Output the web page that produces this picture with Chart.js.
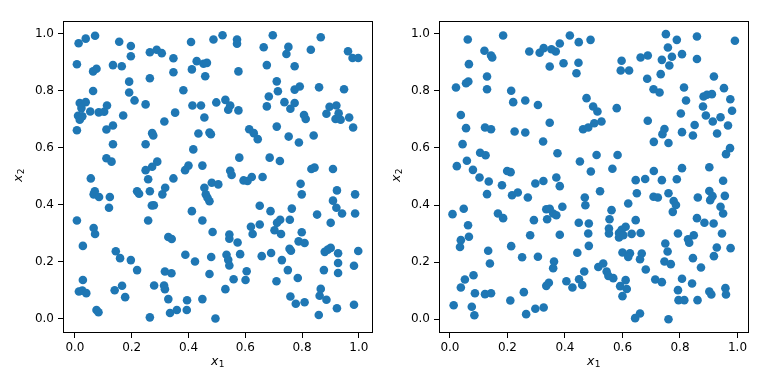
<!DOCTYPE html>
<html><head><meta charset="utf-8">
<script src="https://cdn.jsdelivr.net/npm/chart.js@4"></script>
<style>
html,body{margin:0;padding:0;background:#fff;}
#wrap{position:relative;width:768px;height:384px;}
.c{position:absolute;top:0;width:384px;height:384px;}
</style></head><body>
<div id="wrap">
<div class="c" style="left:0"><canvas id="c1" width="384" height="384"></canvas></div>
<div class="c" style="left:384px"><canvas id="c2" width="384" height="384"></canvas></div>
</div>
<script>
const tickValues = [0, 0.2, 0.4, 0.6, 0.8, 1.0];
const xTitleBase = 'x', xTitleSub = '1';
const yTitleBase = 'x', yTitleSub = '2';

const leftX = [
0.013,0.038,0.071,0.156,0.197,0.264,0.288,0.306,0.409,0.488,
0.007,0.064,0.076,0.134,0.165,0.197,0.347,0.429,0.453,0.465,
0.412,0.347,0.459,0.264,0.191,0.191,0.064,0.210,0.382,0.249,
0.498,0.414,0.444,0.017,0.038,0.023,0.054,0.084,0.103,0.113,
0.011,0.017,0.026,0.007,0.170,0.353,0.315,0.456,0.111,0.134,
0.272,0.276,0.435,0.474,0.479,0.134,0.249,0.417,0.111,0.129,
0.290,0.272,0.249,0.400,0.388,0.449,
0.520,0.571,0.571,0.697,0.665,0.752,0.745,0.866,0.831,0.962,
0.978,0.998,0.676,0.774,0.576,0.711,0.715,0.774,0.792,0.860,
0.948,0.683,0.676,0.530,0.547,0.540,0.576,0.738,0.759,0.774,
0.807,0.813,0.897,0.921,0.886,0.918,0.936,0.929,0.966,0.980,
0.614,0.630,0.644,0.711,0.753,0.789,0.841,0.579,0.686,0.722,
0.833,0.844,0.909,0.547,0.552,
0.056,0.258,0.347,0.070,0.066,0.085,0.123,0.120,0.219,0.226,
0.264,0.308,0.318,0.271,0.278,0.456,0.482,0.461,0.474,0.467,
0.412,0.007,0.258,0.449,0.066,0.071,0.329,0.341,0.485,0.028,
0.144,0.159,0.197,0.219,0.389,0.423,0.480,0.317,0.340,0.474,
0.028,0.014,0.026,0.040,0.140,0.166,0.177,0.279,0.314,0.317,
0.329,0.395,0.449,0.076,0.083,0.264,0.335,0.359,0.394,0.495,
0.594,0.608,0.623,0.661,0.505,0.795,0.799,0.923,0.987,0.909,
0.921,0.941,0.987,0.853,0.901,0.651,0.689,0.764,0.757,0.723,
0.712,0.620,0.651,0.626,0.703,0.726,0.799,0.788,0.809,0.544,
0.544,0.573,0.756,0.761,0.691,0.658,0.582,0.534,0.540,0.544,
0.729,0.880,0.891,0.901,0.927,0.998,0.927,0.983,0.927,0.877,
0.750,0.785,0.710,0.605,0.601,0.559,0.530,0.759,0.778,0.809,
0.866,0.862,0.886,0.859,0.923,0.983
];
const leftY = [
0.967,0.983,0.993,0.972,0.957,0.935,0.944,0.932,0.971,0.980,
0.893,0.868,0.877,0.890,0.886,0.921,0.914,0.904,0.895,0.898,
0.875,0.865,0.851,0.844,0.832,0.794,0.799,0.766,0.802,0.752,
0.759,0.748,0.748,0.757,0.760,0.739,0.727,0.724,0.726,0.748,
0.712,0.698,0.710,0.661,0.713,0.723,0.692,0.706,0.664,0.678,
0.651,0.643,0.650,0.653,0.647,0.612,0.612,0.594,0.563,0.551,
0.551,0.533,0.521,0.537,0.521,0.537,
0.995,0.980,0.965,0.995,0.953,0.954,0.929,0.988,0.944,0.939,
0.915,0.915,0.890,0.886,0.868,0.833,0.798,0.804,0.815,0.812,
0.805,0.780,0.745,0.768,0.748,0.733,0.731,0.760,0.737,0.757,
0.715,0.701,0.744,0.748,0.719,0.701,0.698,0.721,0.706,0.671,
0.665,0.651,0.630,0.674,0.639,0.618,0.643,0.565,0.565,0.553,
0.525,0.530,0.525,0.519,0.504,
0.492,0.489,0.492,0.447,0.436,0.427,0.427,0.389,0.447,0.438,
0.447,0.436,0.459,0.397,0.398,0.459,0.477,0.436,0.412,0.424,
0.377,0.344,0.344,0.344,0.318,0.297,0.286,0.279,0.304,0.255,
0.236,0.212,0.205,0.170,0.224,0.200,0.216,0.165,0.159,0.156,
0.135,0.095,0.098,0.089,0.099,0.115,0.075,0.116,0.116,0.103,
0.068,0.064,0.068,0.030,0.022,0.004,0.019,0.030,0.030,0.000,
0.485,0.483,0.497,0.497,0.471,0.473,0.436,0.450,0.436,0.414,
0.389,0.369,0.369,0.365,0.336,0.396,0.377,0.386,0.347,0.347,
0.336,0.322,0.330,0.297,0.310,0.297,0.303,0.271,0.265,0.295,
0.280,0.267,0.245,0.238,0.230,0.219,0.226,0.224,0.206,0.186,
0.205,0.234,0.242,0.248,0.229,0.237,0.195,0.185,0.160,0.170,
0.170,0.142,0.131,0.166,0.135,0.138,0.103,0.077,0.052,0.057,
0.104,0.080,0.066,0.012,0.036,0.048
];

const rightX = [
0.062,0.185,0.120,0.143,0.147,0.066,0.129,0.056,0.064,0.021,
0.129,0.276,0.312,0.326,0.353,0.368,0.382,0.417,0.448,0.489,
0.347,0.395,0.447,0.440,0.213,0.220,0.262,0.306,0.475,0.038,
0.056,0.122,0.143,0.225,0.262,0.347,0.463,0.481,0.044,0.324,
0.105,0.124,0.374,0.059,0.024,0.080,0.199,0.211,0.452,
0.751,0.789,0.859,0.991,0.758,0.772,0.807,0.859,0.737,0.763,
0.663,0.688,0.597,0.594,0.623,0.733,0.686,0.918,0.708,0.729,
0.814,0.953,0.821,0.882,0.894,0.911,0.880,0.975,0.981,0.890,
0.914,0.941,0.967,0.929,0.803,0.851,0.807,0.845,0.746,0.739,
0.709,0.760,0.688,0.580,0.498,0.513,0.527,0.502,0.510,0.583,
0.490,0.565,0.709,0.807,0.902,0.960,0.974,
0.103,0.135,0.181,0.129,0.216,0.236,0.271,0.297,0.325,0.370,
0.382,0.469,0.471,0.048,0.009,0.167,0.185,0.335,0.347,0.359,
0.370,0.391,0.338,0.292,0.063,0.448,0.483,0.038,0.066,0.035,
0.279,0.382,0.481,0.213,0.133,0.443,0.483,0.251,0.306,0.139,
0.362,0.359,0.467,0.082,0.052,0.038,0.087,0.122,0.143,0.257,
0.335,0.344,0.405,0.426,0.449,0.460,0.013,0.076,0.085,0.210,
0.265,0.297,0.326,
0.646,0.679,0.737,0.789,0.950,0.522,0.650,0.708,0.723,0.760,
0.778,0.786,0.775,0.620,0.562,0.902,0.913,0.905,0.956,0.862,
0.941,0.950,0.859,0.885,0.917,0.946,0.793,0.828,0.832,0.848,
0.928,0.976,0.918,0.845,0.873,0.555,0.646,0.553,0.553,0.588,
0.597,0.611,0.588,0.603,0.632,0.663,0.600,0.626,0.620,0.667,
0.661,0.749,0.757,0.746,0.768,0.681,0.516,0.533,0.545,0.551,
0.568,0.611,0.592,0.615,0.600,0.714,0.737,0.807,0.842,0.793,
0.795,0.815,0.861,0.902,0.909,0.958,0.960,0.644,0.661,0.760
];
const rightY = [
0.979,0.993,0.940,0.923,0.916,0.893,0.850,0.826,0.832,0.811,
0.805,0.937,0.933,0.949,0.945,0.937,0.965,0.993,0.970,0.978,
0.885,0.896,0.898,0.861,0.800,0.760,0.766,0.750,0.774,0.715,
0.669,0.671,0.665,0.657,0.654,0.688,0.665,0.671,0.613,0.622,
0.583,0.574,0.581,0.555,0.536,0.523,0.519,0.515,0.552,
0.998,0.978,0.990,0.975,0.951,0.919,0.928,0.911,0.908,0.888,
0.916,0.923,0.905,0.871,0.871,0.858,0.842,0.850,0.805,0.794,
0.811,0.809,0.766,0.780,0.786,0.788,0.745,0.770,0.730,0.713,
0.692,0.707,0.678,0.650,0.720,0.680,0.655,0.643,0.666,0.648,
0.621,0.617,0.695,0.739,0.745,0.727,0.692,0.686,0.575,0.575,
0.517,0.527,0.519,0.529,0.532,0.578,0.599,
0.496,0.482,0.469,0.438,0.434,0.444,0.426,0.475,0.484,0.496,
0.466,0.426,0.399,0.387,0.368,0.370,0.354,0.385,0.387,0.370,
0.364,0.394,0.350,0.347,0.329,0.338,0.335,0.277,0.289,0.253,
0.294,0.296,0.300,0.256,0.240,0.233,0.257,0.217,0.219,0.195,
0.202,0.179,0.167,0.154,0.139,0.111,0.091,0.088,0.091,0.095,
0.117,0.128,0.133,0.111,0.140,0.120,0.049,0.044,0.014,0.066,
0.018,0.037,0.041,
0.487,0.491,0.487,0.490,0.485,0.448,0.441,0.429,0.426,0.441,
0.414,0.400,0.376,0.405,0.382,0.449,0.431,0.417,0.432,0.426,
0.394,0.370,0.354,0.338,0.335,0.300,0.300,0.280,0.268,0.294,
0.251,0.249,0.221,0.214,0.181,0.350,0.347,0.318,0.300,0.302,
0.313,0.324,0.286,0.294,0.299,0.302,0.234,0.231,0.218,0.230,
0.210,0.265,0.237,0.202,0.193,0.174,0.183,0.195,0.167,0.152,
0.144,0.137,0.116,0.106,0.081,0.139,0.130,0.142,0.125,0.102,
0.067,0.067,0.067,0.097,0.087,0.109,0.087,0.004,0.020,0.000
];

const FONT = 'DejaVu Sans';

function drawMath(ctx, x, y, rot, base, sub) {
  ctx.save();
  ctx.translate(x, y);
  ctx.rotate(rot);
  ctx.fillStyle = '#000';
  ctx.textBaseline = 'alphabetic';
  ctx.textAlign = 'left';
  const fb = 'italic 12.5px "' + FONT + '"', fs = '9px "' + FONT + '"';
  ctx.font = fb; const wb = ctx.measureText(base).width;
  ctx.font = fs; const ws = ctx.measureText(sub).width;
  const start = -(wb + ws) / 2;
  ctx.font = fb; ctx.fillText(base, start, 0);
  ctx.font = fs; ctx.fillText(sub, start + wb + 0.5, 2);
  ctx.restore();
}

const frame = {
  id: 'frame',
  afterDraw(chart, args, opts) {
    const a = chart.chartArea, ctx = chart.ctx;
    ctx.save();
    ctx.strokeStyle = '#000';
    ctx.lineWidth = 1;
    ctx.strokeRect(a.left + 0.5, a.top + 0.5, a.right - a.left - 1, a.bottom - a.top - 1);
    ctx.restore();
    drawMath(ctx, (a.left + a.right) / 2 - 0.5, 365, 0, xTitleBase, xTitleSub);
    drawMath(ctx, opts.yx, (a.top + a.bottom) / 2 - 1.5, -Math.PI / 2, yTitleBase, yTitleSub);
  }
};

function makeChart(id, xs, ys, o) {
  const pts = xs.map((x, i) => ({x: x, y: ys[i]}));
  return new Chart(document.getElementById(id), {
    type: 'scatter',
    data: {datasets: [{data: pts, backgroundColor: '#1f77b4', borderColor: '#1f77b4',
      pointRadius: 4.3, pointHoverRadius: 4.3, borderWidth: 0}]},
    options: {
      responsive: false, animation: false, events: [],
      layout: {padding: {left: 0, top: 21, right: o.right, bottom: 0}},
      plugins: {legend: {display: false}, tooltip: {enabled: false}, frame: {yx: o.yx}},
      scales: {
        x: {
          type: 'linear', min: o.xmin, max: o.xmax,
          afterBuildTicks: s => { s.ticks = tickValues.map(v => ({value: v})); },
          afterFit: s => { s.height = 51; },
          ticks: {color: '#000', font: {family: FONT, size: 12}, padding: 3,
            autoSkip: false, maxRotation: 0, callback: v => Number(v).toFixed(1)},
          grid: {drawOnChartArea: false, drawTicks: true, tickLength: 5, tickColor: '#000'},
          border: {display: false},
          title: {display: false}
        },
        y: {
          type: 'linear', min: o.ymin, max: o.ymax,
          afterBuildTicks: s => { s.ticks = tickValues.map(v => ({value: v})); },
          afterFit: s => { s.width = o.yw; },
          ticks: {color: '#000', font: {family: FONT, size: 12}, padding: 4,
            autoSkip: false, callback: v => Number(v).toFixed(1)},
          grid: {drawOnChartArea: false, drawTicks: true, tickLength: 5, tickColor: '#000'},
          border: {display: false},
          title: {display: false}
        }
      }
    },
    plugins: [frame]
  });
}

makeChart('c1', leftX, leftY, {xmin: -0.042, xmax: 1.05, ymin: -0.051, ymax: 1.045, yw: 63, right: 11, yx: 22});
makeChart('c2', rightX, rightY, {xmin: -0.038, xmax: 1.04, ymin: -0.048, ymax: 1.044, yw: 55, right: 19, yx: 15.5});
</script>
</body></html>
